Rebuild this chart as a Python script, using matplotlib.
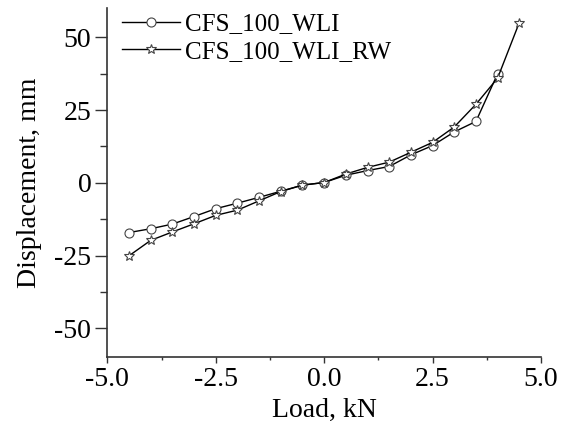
import matplotlib
matplotlib.use("Agg")
import matplotlib.pyplot as plt
import numpy as np
from matplotlib.ticker import MultipleLocator

load_wli = [-4.5, -4.0, -3.5, -3.0, -2.5, -2.0, -1.5, -1.0, -0.5, 0.0, 0.5, 1.0, 1.5, 2.0, 2.5, 3.0, 3.5, 4.0]
disp_wli = [-17.1, -15.8, -14.2, -11.6, -8.9, -7.0, -5.0, -2.9, -0.8, 0.1, 2.6, 4.2, 5.6, 9.6, 12.8, 17.5, 21.1, 37.5]

load_rw = [-4.5, -4.0, -3.5, -3.0, -2.5, -2.0, -1.5, -1.0, -0.5, 0.0, 0.5, 1.0, 1.5, 2.0, 2.5, 3.0, 3.5, 4.0, 4.5]
disp_rw = [-25.1, -19.8, -16.9, -14.1, -11.2, -9.4, -6.2, -3.0, -0.8, 0.1, 3.0, 5.3, 7.1, 10.5, 13.9, 19.2, 27.0, 36.0, 55.1]

x_ticks = [-5.0, -2.5, 0.0, 2.5, 5.0]
y_ticks = [-50, -25, 0, 25, 50]

plt.rcParams['font.family'] = ['Liberation Serif', 'DejaVu Serif']

fig = plt.figure(figsize=(5.7, 4.28), dpi=100)
ax = fig.add_axes([107.3/570, (428-357.3)/428, (541-107.3)/570, (357.3-8.3)/428])

ax.plot(load_wli, disp_wli, color='black', lw=1.0, marker='o', markersize=6.5,
        markerfacecolor='white', markeredgecolor='#444444', markeredgewidth=0.8,
        label='CFS_100_WLI')
ax.plot(load_rw, disp_rw, color='black', lw=1.0, marker='*', markersize=7.5,
        markerfacecolor='white', markeredgecolor='#444444', markeredgewidth=0.8,
        label='CFS_100_WLI_RW')

ax.set_xlim(-5, 5)
ax.set_ylim(-60, 60)
ax.set_xticks(x_ticks)
ax.set_xticklabels([f"{v:.1f}" for v in x_ticks])
ax.set_yticks(y_ticks)
ax.set_yticklabels([str(v) for v in y_ticks])
ax.xaxis.set_minor_locator(MultipleLocator(1.25))
ax.yaxis.set_minor_locator(MultipleLocator(12.5))

for s in ['top', 'right']:
    ax.spines[s].set_visible(False)
for s in ['left', 'bottom']:
    ax.spines[s].set_linewidth(1.2)
    ax.spines[s].set_color('#333333')

ax.tick_params(axis='x', which='major', direction='out', length=4.2, width=1.0, labelsize=20, pad=3, color='#333333')
ax.tick_params(axis='x', which='minor', direction='out', length=2.5, width=1.0, color='#333333')
ax.tick_params(axis='y', which='major', direction='out', length=8.5, width=1.0, labelsize=20, pad=3, color='#333333')
ax.tick_params(axis='y', which='minor', direction='out', length=4.8, width=1.0, color='#333333')

ax.set_xlabel('Load, kN', fontsize=20, labelpad=4)
ax.set_ylabel('Displacement, mm', fontsize=20, labelpad=9)

ax.legend(loc='upper left', frameon=False, fontsize=18, handlelength=2.3,
          handletextpad=0.2, labelspacing=0.2, borderaxespad=0.2,
          bbox_to_anchor=(0.0, 1.03))

fig.savefig('out.png', dpi=100)
